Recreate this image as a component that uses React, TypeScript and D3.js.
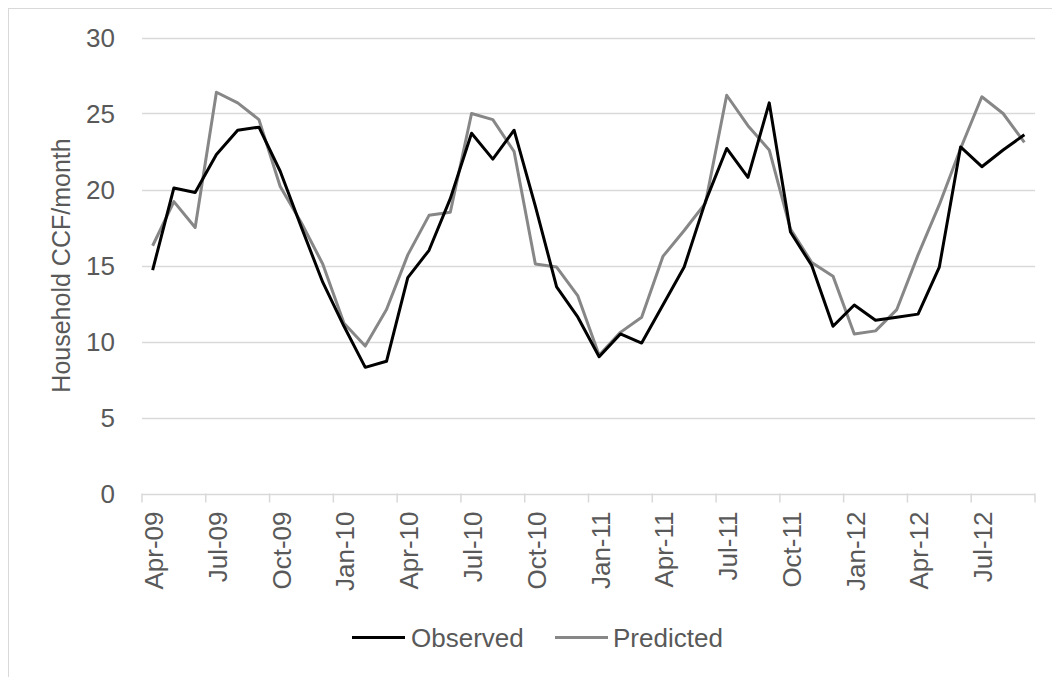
import React from "react";
import * as d3 from "d3";

const categories = [
  "Apr-09","May-09","Jun-09","Jul-09","Aug-09","Sep-09","Oct-09","Nov-09","Dec-09",
  "Jan-10","Feb-10","Mar-10","Apr-10","May-10","Jun-10","Jul-10","Aug-10","Sep-10","Oct-10","Nov-10","Dec-10",
  "Jan-11","Feb-11","Mar-11","Apr-11","May-11","Jun-11","Jul-11","Aug-11","Sep-11","Oct-11","Nov-11","Dec-11",
  "Jan-12","Feb-12","Mar-12","Apr-12","May-12","Jun-12","Jul-12","Aug-12","Sep-12"
];

const observed = [
  14.7, 20.1, 19.8, 22.3, 23.9, 24.1, 21.2, 17.5, 13.9, 11.0,
  8.3, 8.7, 14.2, 16.0, 19.4, 23.7, 22.0, 23.9, 18.9, 13.6,
  11.6, 9.0, 10.5, 9.9, 12.4, 14.9, 19.2, 22.7, 20.8, 25.7,
  17.2, 15.0, 11.0, 12.4, 11.4, 11.6, 11.8, 14.9, 22.8, 21.5,
  22.6, 23.6
];

const predicted = [
  16.3, 19.2, 17.5, 26.4, 25.7, 24.6, 20.2, 17.8, 15.1, 11.2,
  9.7, 12.1, 15.7, 18.3, 18.5, 25.0, 24.6, 22.5, 15.1, 14.9,
  13.0, 9.1, 10.6, 11.6, 15.6, 17.3, 19.1, 26.2, 24.2, 22.6,
  17.4, 15.2, 14.3, 10.5, 10.7, 12.1, 15.7, 19.0, 22.7, 26.1,
  25.0, 23.1
];

const yTicks = [0, 5, 10, 15, 20, 25, 30];
const seriesNames = ["Observed", "Predicted"];

const W = 1052;
const H = 677;
const plot = { left: 142, right: 1035, top: 37.5, bottom: 493.5 };
const FONT = "'Liberation Sans', Arial, sans-serif";
const TXT = "#595959";
const GRID = "#d9d9d9";

export default function App() {
  const x = d3
    .scaleBand<string>()
    .domain(categories)
    .range([plot.left, plot.right])
    .padding(0);
  const bw = x.bandwidth();
  const cx = (i: number) => (x(categories[i]) as number) + bw / 2;
  const y = d3.scaleLinear().domain([0, 30]).range([plot.bottom, plot.top]);

  const line = d3
    .line<number>()
    .x((_, i) => cx(i))
    .y((d) => y(d));

  const tickIdx = d3.range(0, categories.length + 1, 3);

  return (
    <svg
      width={W}
      height={H}
      style={{ position: "absolute", left: 0, top: 0, display: "block", background: "#fff" }}
      fontFamily={FONT}
    >
      <rect x={0} y={0} width={W} height={H} fill="#fff" />
      <line x1={8.5} y1={8} x2={8.5} y2={H} stroke={GRID} strokeWidth={1} />
      <line x1={8} y1={8.5} x2={W} y2={8.5} stroke={GRID} strokeWidth={1} />

      {yTicks.map((t) => (
        <g key={t}>
          <line
            x1={plot.left}
            x2={plot.right}
            y1={Math.round(y(t)) + 0.5}
            y2={Math.round(y(t)) + 0.5}
            stroke={GRID}
            strokeWidth={1.5}
          />
          <text
            x={115}
            y={y(t)}
            dy="0.36em"
            textAnchor="end"
            fontSize={26}
            fill={TXT}
          >
            {t}
          </text>
        </g>
      ))}

      {tickIdx.map((i) => {
        const xx = i < categories.length ? (x(categories[i]) as number) : plot.right;
        return (
          <line
            key={"t" + i}
            x1={xx}
            x2={xx}
            y1={plot.bottom}
            y2={plot.bottom + 9}
            stroke={GRID}
            strokeWidth={1.5}
          />
        );
      })}

      {categories.map((c, i) =>
        i % 3 === 0 ? (
          <text
            key={c}
            transform={`translate(${cx(i) + 1},${plot.bottom + 18}) rotate(-90)`}
            dy="0.36em"
            textAnchor="end"
            fontSize={26}
            fill={TXT}
          >
            {c}
          </text>
        ) : null
      )}

      <text
        transform={`translate(70,${(plot.top + plot.bottom) / 2}) rotate(-90)`}
        textAnchor="middle"
        fontSize={25}
        fill={TXT}
      >
        Household CCF/month
      </text>

      <path d={line(predicted) || ""} fill="none" stroke="#878787" strokeWidth={3} strokeLinejoin="round" />
      <path d={line(observed) || ""} fill="none" stroke="#000" strokeWidth={3} strokeLinejoin="round" />

      <g>
        <line x1={352} x2={405} y1={637.5} y2={637.5} stroke="#000" strokeWidth={3} />
        <text x={411} y={637.5} dy="0.36em" fontSize={26} fill={TXT}>
          {seriesNames[0]}
        </text>
        <line x1={555} x2={608} y1={637.5} y2={637.5} stroke="#878787" strokeWidth={3} />
        <text x={613} y={637.5} dy="0.36em" fontSize={26} fill={TXT}>
          {seriesNames[1]}
        </text>
      </g>
    </svg>
  );
}
